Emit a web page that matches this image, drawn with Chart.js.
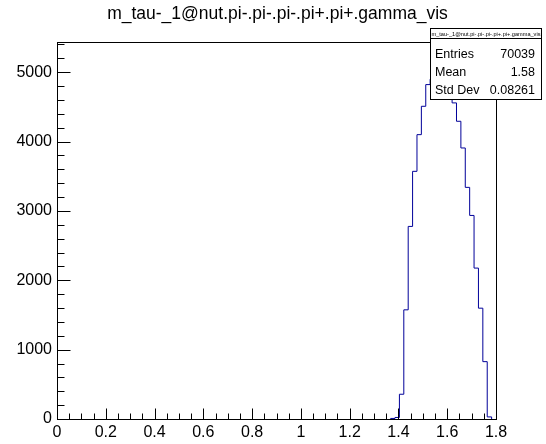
<!DOCTYPE html>
<html>
<head>
<meta charset="utf-8">
<script src="https://cdn.jsdelivr.net/npm/chart.js@4/dist/chart.umd.min.js"></script>
<style>
  html, body { margin: 0; padding: 0; background: #fff; }
  #c { display: block; }
</style>
</head>
<body>
<canvas id="c" width="546" height="444"></canvas>
<script>
// Histogram of the visible tau mass: 100 bins on [0, 1.8]
const histTitle = 'm_tau-_1@nut.pi-.pi-.pi-.pi+.pi+.gamma_vis';
const histLow = 0;
const histHigh = 1.8;
const nBins = 100;
// counts of the filled bins, starting at bin index firstBin (all other bins are empty)
const firstBin = 76;
const binCounts = [8, 22, 357, 1574, 2777, 3571, 4100, 4509, 4822, 4900, 5060, 5177,
                   4950, 4700, 4558, 4293, 3908, 3340, 2935, 2176, 1598, 827, 30];
const yMax = 5436;

// axis ticks and labels
const xTickValues = [0, 0.2, 0.4, 0.6, 0.8, 1.0, 1.2, 1.4, 1.6, 1.8];
const xTickLabels = ['0', '0.2', '0.4', '0.6', '0.8', '1', '1.2', '1.4', '1.6', '1.8'];
const yTickValues = [0, 1000, 2000, 3000, 4000, 5000];
const yTickLabels = ['0', '1000', '2000', '3000', '4000', '5000'];
const xMinorStep = 0.05;
const yMinorStep = 200;

// statistics box
const statsLabels = ['Entries', 'Mean', 'Std Dev'];
const statsValues = ['70039', '1.58', '0.08261'];

const FONT = "'Liberation Sans', Arial, sans-serif";
const binWidth = (histHigh - histLow) / nBins;

// step outline of the filled bins: rise from zero at the first lower edge,
// one point per bin lower edge, drop back to zero at the last upper edge
const points = [{ x: histLow + firstBin * binWidth, y: 0 }];
binCounts.forEach((v, j) => {
  points.push({ x: histLow + (firstBin + j) * binWidth, y: v });
});
points.push({ x: histLow + (firstBin + binCounts.length) * binWidth, y: 0 });

// title, frame, inward ticks and the stats box, drawn over the histogram
const framePlugin = {
  id: 'rootFrame',
  afterDatasetsDraw(chart) {
    const { ctx, chartArea: a, scales: { x, y } } = chart;
    ctx.save();
    ctx.strokeStyle = '#000';
    ctx.lineWidth = 1;
    const L = Math.round(a.left) + 0.5, R = Math.round(a.right) + 0.5;
    const T = Math.round(a.top) + 0.5, B = Math.round(a.bottom) + 0.5;
    ctx.strokeRect(L, T, R - L, B - T);

    ctx.beginPath();
    // x ticks (major and minor)
    const nx = Math.round((histHigh - histLow) / xMinorStep);
    for (let k = 0; k <= nx; k++) {
      const v = histLow + k * xMinorStep;
      const px = Math.round(x.getPixelForValue(v)) + 0.5;
      const major = xTickValues.some(t => Math.abs(t - v) < 1e-9);
      const len = major ? 11 : 6;
      ctx.moveTo(px, B);
      ctx.lineTo(px, B - len);
    }
    // y ticks (major and minor)
    for (let v = 0; v <= yMax; v += yMinorStep) {
      const py = Math.round(y.getPixelForValue(v)) + 0.5;
      const major = yTickValues.includes(v);
      const len = major ? 13 : 7;
      ctx.moveTo(L, py);
      ctx.lineTo(L + len, py);
    }
    ctx.stroke();

    // histogram title
    ctx.fillStyle = '#000';
    ctx.textAlign = 'center';
    ctx.textBaseline = 'alphabetic';
    ctx.font = '17.5px ' + FONT;
    ctx.fillText(histTitle, 277.5, 18.5);
    ctx.restore();
  },
  afterDraw(chart) {
    const { ctx } = chart;
    ctx.save();
    const bx = 430.5, by = 28.5, bw = 111, bh = 71;
    ctx.fillStyle = '#fff';
    ctx.fillRect(bx, by, bw, bh);
    ctx.strokeStyle = '#000';
    ctx.lineWidth = 1;
    ctx.strokeRect(bx, by, bw, bh);
    ctx.beginPath();
    ctx.moveTo(bx, 38.5);
    ctx.lineTo(bx + bw, 38.5);
    ctx.stroke();

    ctx.fillStyle = '#000';
    ctx.textBaseline = 'middle';
    ctx.textAlign = 'center';
    ctx.font = '5.6px ' + FONT;
    ctx.fillText(histTitle, bx + bw / 2, 34);

    ctx.font = '12.5px ' + FONT;
    const rows = [54.5, 72.5, 91];
    statsLabels.forEach((s, i) => {
      ctx.textAlign = 'left';
      ctx.fillText(s, 435, rows[i]);
      ctx.textAlign = 'right';
      ctx.fillText(statsValues[i], 535, rows[i]);
    });
    ctx.restore();
  }
};

new Chart(document.getElementById('c'), {
  type: 'line',
  data: {
    datasets: [{
      data: points,
      stepped: 'before',
      borderColor: '#000099',
      borderWidth: 1,
      pointRadius: 0,
      fill: false,
      tension: 0
    }]
  },
  options: {
    responsive: false,
    animation: false,
    devicePixelRatio: 1,
    layout: { padding: { left: 0, right: 50, top: 42, bottom: 0 } },
    plugins: {
      legend: { display: false },
      tooltip: { enabled: false },
      title: { display: false }
    },
    scales: {
      x: {
        type: 'linear',
        min: histLow,
        max: histHigh,
        grid: { display: false, drawTicks: false },
        border: { display: false },
        afterBuildTicks: s => { s.ticks = xTickValues.map(v => ({ value: v })); },
        afterFit: s => { s.height = 25; },
        ticks: {
          autoSkip: false,
          maxRotation: 0,
          padding: 4,
          color: '#000',
          font: { family: FONT, size: 16 },
          callback: (v, i) => xTickLabels[i]
        }
      },
      y: {
        type: 'linear',
        min: 0,
        max: yMax,
        grid: { display: false, drawTicks: false },
        border: { display: false },
        afterBuildTicks: s => { s.ticks = yTickValues.map(v => ({ value: v })); },
        afterFit: s => { s.width = 57; },
        ticks: {
          autoSkip: false,
          padding: 5,
          color: '#000',
          font: { family: FONT, size: 16 },
          callback: (v, i) => yTickLabels[i]
        }
      }
    }
  },
  plugins: [framePlugin]
});
</script>
</body>
</html>
